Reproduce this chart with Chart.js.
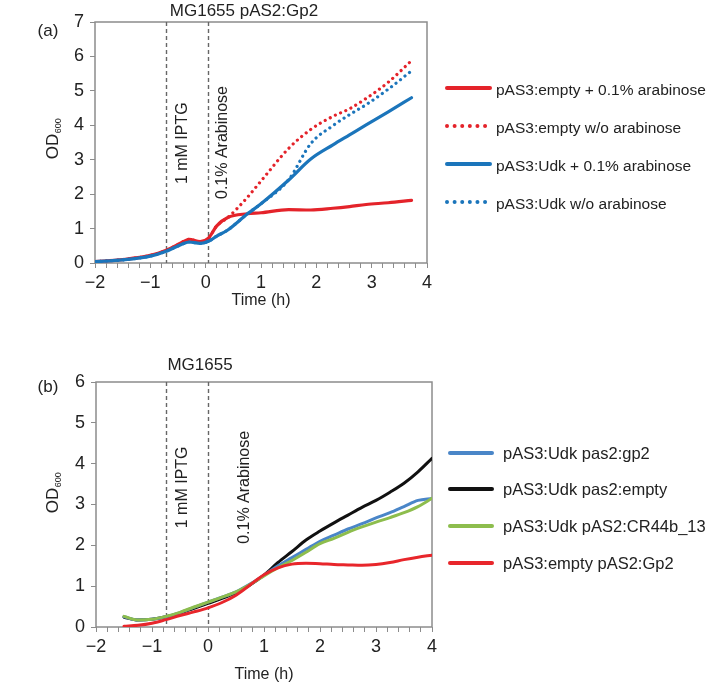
<!DOCTYPE html>
<html>
<head>
<meta charset="utf-8">
<script src="https://cdn.jsdelivr.net/npm/chart.js@4"></script>
<style>
  html, body { margin: 0; padding: 0; background: #fff; }
  #wrap { position: relative; width: 717px; height: 685px; }
  .panel { position: absolute; left: 0; width: 717px; }
  #boxA { top: 0; height: 320px; }
  #boxB { top: 330px; height: 355px; }
</style>
</head>
<body>
<div id="wrap">
  <div class="panel" id="boxA"><canvas id="chartA" width="717" height="320"></canvas></div>
  <div class="panel" id="boxB"><canvas id="chartB" width="717" height="355"></canvas></div>
</div>
<script>
// ---- panel (a) : MG1655 pAS2:Gp2 ----
const timeA = [-2, -1.5, -1, -0.7, -0.45, -0.3, -0.1, 0.05, 0.2, 0.4, 0.75, 1, 1.5, 1.9, 2.3, 2.6, 2.9, 3.3, 3.72];
const emptyAra   = [0.04, 0.10, 0.22, 0.38, 0.58, 0.69, 0.62, 0.72, 1.08, 1.32, 1.43, 1.46, 1.55, 1.54, 1.59, 1.64, 1.70, 1.75, 1.82];
const emptyNoAra = [0.04, 0.10, 0.22, 0.38, 0.58, 0.69, 0.62, 0.72, 1.08, 1.32, 1.90, 2.38, 3.33, 3.88, 4.26, 4.48, 4.78, 5.25, 5.88];
const udkAra     = [0.04, 0.09, 0.20, 0.35, 0.53, 0.61, 0.57, 0.63, 0.78, 0.96, 1.42, 1.72, 2.41, 3.02, 3.43, 3.72, 4.01, 4.39, 4.80];
const udkNoAra   = [0.04, 0.09, 0.20, 0.35, 0.53, 0.61, 0.57, 0.63, 0.78, 0.96, 1.42, 1.72, 2.42, 3.47, 3.99, 4.31, 4.60, 5.05, 5.58];
const labelsA = ['pAS3:empty + 0.1% arabinose', 'pAS3:empty w/o arabinose', 'pAS3:Udk + 0.1% arabinose', 'pAS3:Udk w/o arabinose'];
const markersA = [-0.72, 0.05];
const yMaxA = 7;

// ---- panel (b) : MG1655 ----
const timeB = [-1.5, -1.25, -1, -0.75, -0.5, -0.25, 0, 0.25, 0.5, 0.75, 1, 1.25, 1.5, 1.75, 2, 2.25, 2.5, 2.75, 3, 3.25, 3.5, 3.75, 4];
const udkGp2   = [0.25, 0.17, 0.19, 0.25, 0.35, 0.48, 0.61, 0.73, 0.86, 1.05, 1.27, 1.50, 1.70, 1.90, 2.10, 2.25, 2.40, 2.53, 2.67, 2.80, 2.95, 3.10, 3.15];
const udkEmpty = [0.24, 0.17, 0.19, 0.25, 0.34, 0.46, 0.58, 0.70, 0.84, 1.03, 1.27, 1.58, 1.85, 2.13, 2.35, 2.55, 2.74, 2.93, 3.10, 3.30, 3.52, 3.80, 4.13];
const udkCR    = [0.26, 0.17, 0.19, 0.26, 0.36, 0.49, 0.61, 0.73, 0.86, 1.04, 1.25, 1.45, 1.63, 1.83, 2.04, 2.17, 2.32, 2.45, 2.57, 2.68, 2.80, 2.95, 3.15];
const emptyGp2 = [0.02, 0.04, 0.09, 0.18, 0.28, 0.37, 0.47, 0.60, 0.78, 1.03, 1.28, 1.45, 1.54, 1.56, 1.55, 1.53, 1.52, 1.51, 1.53, 1.58, 1.65, 1.71, 1.76];
const labelsB = ['pAS3:Udk pas2:gp2', 'pAS3:Udk pas2:empty', 'pAS3:Udk pAS2:CR44b_13', 'pAS3:empty pAS2:Gp2'];
const markersB = [-0.75, 0];
const yMaxB = 6;

const xMin = -2, xMax = 4;
const fontFamily = '"Liberation Sans", Arial, Helvetica, sans-serif';
Chart.defaults.font.family = fontFamily;
Chart.defaults.color = '#222';

function pts(times, vals) {
    return times.map((t, i) => ({ x: t, y: vals[i] }));
}

// integer labels only, with a real minus sign
function fmtTick(v) {
    const r = Math.round(v);
    if (Math.abs(v - r) > 1e-6) return '';
    return r < 0 ? '\u2212' + Math.abs(r) : String(r);
}

const DOT = [0.01, 5.7];

// box, dashed markers, rotated notes, titles and the legend
const decor = {
    id: 'decor',
    beforeDatasetsDraw(chart, args, o) {
        const { ctx, chartArea: a, scales: { x, y } } = chart;
        ctx.save();
        ctx.strokeStyle = '#8c8c8c';
        ctx.lineWidth = 1.5;
        ctx.strokeRect(a.left, a.top, a.right - a.left, a.bottom - a.top);

        ctx.strokeStyle = '#666';
        ctx.lineWidth = 1.4;
        ctx.setLineDash([4, 3]);
        o.markers.forEach(m => {
            const px = Math.round(x.getPixelForValue(m)) + 0.5;
            ctx.beginPath();
            ctx.moveTo(px, a.top);
            ctx.lineTo(px, a.bottom);
            ctx.stroke();
        });
        ctx.setLineDash([]);

        ctx.fillStyle = '#222';
        ctx.font = '16px ' + fontFamily;
        ctx.textAlign = 'center';
        ctx.textBaseline = 'middle';
        o.notes.forEach(n => {
            ctx.save();
            ctx.translate(x.getPixelForValue(n.x), y.getPixelForValue(n.y));
            ctx.rotate(-Math.PI / 2);
            ctx.fillText(n.text, 0, 0);
            ctx.restore();
        });
        ctx.restore();
    },
    afterDraw(chart, args, o) {
        const { ctx, chartArea: a } = chart;
        ctx.save();
        ctx.fillStyle = '#222';
        ctx.textBaseline = 'middle';

        // title + panel letter
        ctx.textAlign = 'center';
        ctx.font = '17px ' + fontFamily;
        ctx.fillText(o.title, o.titleX, o.titleY);
        ctx.fillText(o.letter, o.letterX, o.letterY);

        // x axis title
        ctx.font = '16px ' + fontFamily;
        ctx.fillText('Time (h)', (a.left + a.right) / 2, o.timeY);

        // OD600 with subscript, rotated
        ctx.save();
        ctx.translate(o.odX, o.odY);
        ctx.rotate(-Math.PI / 2);
        ctx.textAlign = 'left';
        ctx.font = '17px ' + fontFamily;
        const wOD = ctx.measureText('OD').width;
        ctx.font = '9px ' + fontFamily;
        const wSub = ctx.measureText('600').width;
        const start = -(wOD + wSub) / 2;
        ctx.font = '17px ' + fontFamily;
        ctx.fillText('OD', start, 0);
        ctx.font = '9px ' + fontFamily;
        ctx.fillText('600', start + wOD + 0.5, 6);
        ctx.restore();

        // legend
        const lg = o.legend;
        chart.data.datasets.forEach((ds, i) => {
            const yy = lg.rows[i];
            ctx.save();
            ctx.strokeStyle = ds.borderColor;
            ctx.lineWidth = lg.width;
            ctx.lineCap = 'round';
            ctx.setLineDash(ds.borderDash && ds.borderDash.length ? [0.01, 7.6] : []);
            ctx.beginPath();
            ctx.moveTo(lg.x1, yy);
            ctx.lineTo(lg.x2, yy);
            ctx.stroke();
            ctx.restore();
            ctx.textAlign = 'left';
            ctx.font = lg.font + 'px ' + fontFamily;
            ctx.fillText(ds.label, lg.textX, yy + lg.textDy);
        });
        ctx.restore();
    }
};

function makeOptions(cfg) {
    return {
        responsive: false,
        animation: false,
        layout: { padding: { left: 0, top: cfg.top, right: 717 - cfg.right, bottom: 0 } },
        plugins: {
            legend: { display: false },
            tooltip: { enabled: false },
            decor: cfg.decor
        },
        elements: {
            point: { radius: 0 },
            line: { cubicInterpolationMode: 'monotone', borderCapStyle: 'round', borderJoinStyle: 'round' }
        },
        scales: {
            x: {
                type: 'linear',
                min: xMin,
                max: xMax,
                afterFit: s => { s.height = cfg.height - cfg.bottom; },
                border: { display: false },
                grid: { drawOnChartArea: false, tickLength: 5, color: '#8c8c8c', lineWidth: 1 },
                ticks: { stepSize: 0.2, autoSkip: false, maxRotation: 0, padding: 4, font: { size: 18 }, color: '#222', callback: fmtTick }
            },
            y: {
                min: 0,
                max: cfg.ymax,
                afterFit: s => { s.width = cfg.left; },
                border: { display: false },
                grid: { drawOnChartArea: false, tickLength: 5, color: '#8c8c8c', lineWidth: 1 },
                ticks: { stepSize: 1, padding: 6, font: { size: 18 }, color: '#222' }
            }
        }
    };
}

const redA = '#e4232a', blueA = '#1b75bb';

new Chart(document.getElementById('chartA').getContext('2d'), {
    type: 'line',
    data: {
        datasets: [
            { label: labelsA[0], data: pts(timeA, emptyAra), borderColor: redA, borderWidth: 3.2, order: 4 },
            { label: labelsA[1], data: pts(timeA, emptyNoAra), borderColor: redA, borderWidth: 3.2, borderDash: DOT, order: 3 },
            { label: labelsA[2], data: pts(timeA, udkAra), borderColor: blueA, borderWidth: 3.2, order: 2 },
            { label: labelsA[3], data: pts(timeA, udkNoAra), borderColor: blueA, borderWidth: 3.2, borderDash: DOT, order: 1 }
        ]
    },
    options: makeOptions({
        height: 320, top: 22, bottom: 263, left: 95, right: 427, ymax: yMaxA,
        decor: {
            markers: markersA,
            notes: [{ text: '1 mM IPTG', x: -0.41, y: 3.48 }, { text: '0.1% Arabinose', x: 0.3, y: 3.5 }],
            title: 'MG1655 pAS2:Gp2', titleX: 244, titleY: 11,
            letter: '(a)', letterX: 48, letterY: 31,
            timeY: 301, odX: 53, odY: 139,
            legend: { x1: 447, x2: 490, textX: 496, textDy: 3, width: 4, font: 15.5, rows: [88, 126, 164, 202] }
        }
    }),
    plugins: [decor]
});

new Chart(document.getElementById('chartB').getContext('2d'), {
    type: 'line',
    data: {
        datasets: [
            { label: labelsB[0], data: pts(timeB, udkGp2), borderColor: '#4a86c8', borderWidth: 3, order: 3 },
            { label: labelsB[1], data: pts(timeB, udkEmpty), borderColor: '#111111', borderWidth: 3, order: 4 },
            { label: labelsB[2], data: pts(timeB, udkCR), borderColor: '#8dbd4d', borderWidth: 3, order: 2 },
            { label: labelsB[3], data: pts(timeB, emptyGp2), borderColor: '#e8262b', borderWidth: 3, order: 1 }
        ]
    },
    options: makeOptions({
        height: 355, top: 52, bottom: 297, left: 96, right: 432, ymax: yMaxB,
        decor: {
            markers: markersB,
            notes: [{ text: '1 mM IPTG', x: -0.45, y: 3.42 }, { text: '0.1% Arabinose', x: 0.66, y: 3.42 }],
            title: 'MG1655', titleX: 200, titleY: 35,
            letter: '(b)', letterX: 48, letterY: 57,
            timeY: 345, odX: 53, odY: 163,
            legend: { x1: 450, x2: 492, textX: 503, textDy: 1, width: 4, font: 16.5, rows: [123, 159, 196, 233] }
        }
    }),
    plugins: [decor]
});
</script>
</body>
</html>
